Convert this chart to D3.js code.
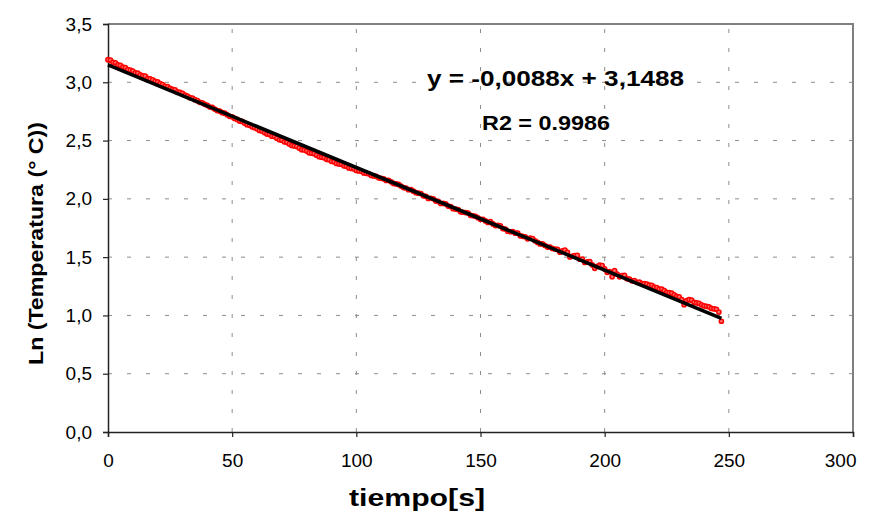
<!DOCTYPE html>
<html>
<head>
<meta charset="utf-8">
<script src="https://cdn.jsdelivr.net/npm/d3@7/dist/d3.min.js"></script>
<style>
  html, body { margin: 0; padding: 0; background: #fff; }
  svg { display: block; }
  text { font-family: "Liberation Sans", Arial, sans-serif; }
</style>
</head>
<body>
<svg id="chart" width="874" height="513"></svg>
<script>
// ---- data ----
const timeS = d3.range(0, 248); // 0..247 s, one sample per second
const lnTemp = [
  3.194, 3.190, 3.171, 3.167, 3.149, 3.145, 3.131, 3.127, 3.108, 3.105,
  3.096, 3.082, 3.078, 3.064, 3.056, 3.052, 3.033, 3.029, 3.020, 3.007,
  3.003, 2.989, 2.980, 2.966, 2.963, 2.949, 2.940, 2.936, 2.917, 2.914,
  2.905, 2.891, 2.882, 2.868, 2.865, 2.851, 2.842, 2.828, 2.824, 2.811,
  2.802, 2.788, 2.784, 2.770, 2.757, 2.753, 2.739, 2.735, 2.721, 2.708,
  2.704, 2.690, 2.681, 2.667, 2.664, 2.650, 2.636, 2.632, 2.618, 2.610,
  2.601, 2.587, 2.583, 2.569, 2.556, 2.552, 2.538, 2.534, 2.520, 2.507,
  2.503, 2.489, 2.485, 2.471, 2.458, 2.454, 2.450, 2.436, 2.422, 2.419,
  2.410, 2.396, 2.392, 2.388, 2.375, 2.361, 2.357, 2.353, 2.339, 2.336,
  2.322, 2.318, 2.304, 2.300, 2.297, 2.283, 2.279, 2.265, 2.261, 2.258,
  2.244, 2.240, 2.236, 2.222, 2.219, 2.215, 2.201, 2.197, 2.193, 2.180,
  2.176, 2.172, 2.158, 2.159, 2.146, 2.132, 2.128, 2.124, 2.110, 2.097,
  2.093, 2.079, 2.080, 2.066, 2.053, 2.049, 2.045, 2.026, 2.022, 2.004,
  2.005, 2.001, 1.982, 1.978, 1.960, 1.961, 1.957, 1.938, 1.934, 1.916,
  1.912, 1.908, 1.889, 1.885, 1.882, 1.878, 1.859, 1.855, 1.851, 1.838,
  1.824, 1.825, 1.811, 1.797, 1.804, 1.785, 1.771, 1.772, 1.768, 1.745,
  1.741, 1.722, 1.718, 1.719, 1.706, 1.707, 1.683, 1.679, 1.675, 1.657,
  1.663, 1.659, 1.640, 1.626, 1.613, 1.614, 1.600, 1.586, 1.587, 1.574,
  1.570, 1.566, 1.542, 1.553, 1.560, 1.541, 1.502, 1.508, 1.514, 1.516,
  1.482, 1.483, 1.454, 1.460, 1.462, 1.433, 1.404, 1.420, 1.431, 1.428,
  1.399, 1.370, 1.376, 1.332, 1.384, 1.355, 1.331, 1.342, 1.343, 1.315,
  1.311, 1.297, 1.298, 1.284, 1.286, 1.272, 1.273, 1.269, 1.260, 1.257,
  1.243, 1.239, 1.225, 1.226, 1.213, 1.199, 1.195, 1.191, 1.177, 1.164,
  1.160, 1.136, 1.092, 1.128, 1.135, 1.131, 1.112, 1.108, 1.104, 1.091,
  1.082, 1.078, 1.074, 1.060, 1.057, 1.053, 1.029, 0.950
];
const trendSlope = -0.0088;
const trendIntercept = 3.1488;
const trendRange = [0, 247];
const xTicks = [0, 50, 100, 150, 200, 250, 300];
const yTicks = [0, 0.5, 1.0, 1.5, 2.0, 2.5, 3.0, 3.5];
const xTitle = "tiempo[s]";
const yTitle = "Ln (Temperatura (° C))";
const eqLabel = "y = -0,0088x + 3,1488";
const r2Label = "R2 = 0.9986";

// ---- layout ----
const margin = { left: 108, right: 21, top: 24, bottom: 81 };
const W = 874, H = 513;
const svg = d3.select("#chart");
const x = d3.scaleLinear().domain([0, 300]).range([margin.left, W - margin.right]);
const y = d3.scaleLinear().domain([0, 3.5]).range([H - margin.bottom, margin.top]);
const fmtY = v => d3.format(".1f")(v).replace(".", ",");

// grid
const grid = svg.append("g");
grid.selectAll("line.hg").data(yTicks.filter(v => v > 0 && v < 3.5)).join("line")
  .attr("x1", x(0)).attr("x2", x(300))
  .attr("y1", d => y(d)).attr("y2", d => y(d))
  .attr("stroke", "#8c8c8c").attr("stroke-width", 1).attr("stroke-dasharray", "4,15");
grid.selectAll("line.vg").data(xTicks.filter(v => v > 0 && v < 300)).join("line")
  .attr("y1", y(0)).attr("y2", y(3.5))
  .attr("x1", d => x(d)).attr("x2", d => x(d))
  .attr("stroke", "#8c8c8c").attr("stroke-width", 1).attr("stroke-dasharray", "4,15");

// plot border (top and right)
svg.append("path")
  .attr("d", `M${x(0)},${y(3.5)}H${x(300)}V${y(0)}`)
  .attr("fill", "none").attr("stroke", "#808080").attr("stroke-width", 2);

// axes
const xAxis = svg.append("g").attr("transform", `translate(0,${y(0)})`)
  .call(d3.axisBottom(x).tickValues(xTicks).tickSize(5).tickPadding(17).tickFormat(d3.format("d")));
const yAxis = svg.append("g").attr("transform", `translate(${x(0)},0)`)
  .call(d3.axisLeft(y).tickValues(yTicks).tickSize(5).tickPadding(11).tickFormat(fmtY));
[xAxis, yAxis].forEach(g => {
  g.select(".domain").attr("stroke", "#222").attr("stroke-width", 1.5);
  g.selectAll(".tick line").attr("stroke", "#222").attr("stroke-width", 1.2);
  g.selectAll(".tick text").attr("fill", "#000")
    .style("font-family", "'Liberation Sans', Arial, sans-serif").style("font-size", "19px");
});
// last x label kept inside the chart area, as in the reference
xAxis.selectAll(".tick").filter(d => d === 300).select("text")
  .attr("text-anchor", "end").attr("x", 3);

// data points
const pts = timeS.map((t, i) => ({ t, v: lnTemp[i] }));
svg.append("g").selectAll("circle").data(pts).join("circle")
  .attr("cx", d => x(d.t)).attr("cy", d => y(d.v)).attr("r", 2.1)
  .attr("fill", "#ff7070").attr("stroke", "#ff0000").attr("stroke-width", 1.5);

// trend line
const trendPts = trendRange.map(t => ({ t, v: trendIntercept + trendSlope * t }));
svg.append("path").datum(trendPts)
  .attr("d", d3.line().x(d => x(d.t)).y(d => y(d.v)))
  .attr("fill", "none").attr("stroke", "#000").attr("stroke-width", 3.6);

// equation labels
svg.append("text").attr("x", 427).attr("y", 86)
  .attr("textLength", 257).attr("lengthAdjust", "spacingAndGlyphs")
  .style("font-size", "22px").style("font-weight", "bold").text(eqLabel);
svg.append("text").attr("x", 482).attr("y", 130)
  .attr("textLength", 128).attr("lengthAdjust", "spacingAndGlyphs")
  .style("font-size", "21px").style("font-weight", "bold").text(r2Label);

// axis titles
svg.append("text").attr("x", 349).attr("y", 506)
  .attr("textLength", 136).attr("lengthAdjust", "spacingAndGlyphs")
  .style("font-size", "23px").style("font-weight", "bold").text(xTitle);
svg.append("text").attr("transform", `translate(43,365) rotate(-90)`)
  .attr("textLength", 243).attr("lengthAdjust", "spacingAndGlyphs")
  .style("font-size", "21px").style("font-weight", "bold").text(yTitle);
</script>
</body>
</html>
